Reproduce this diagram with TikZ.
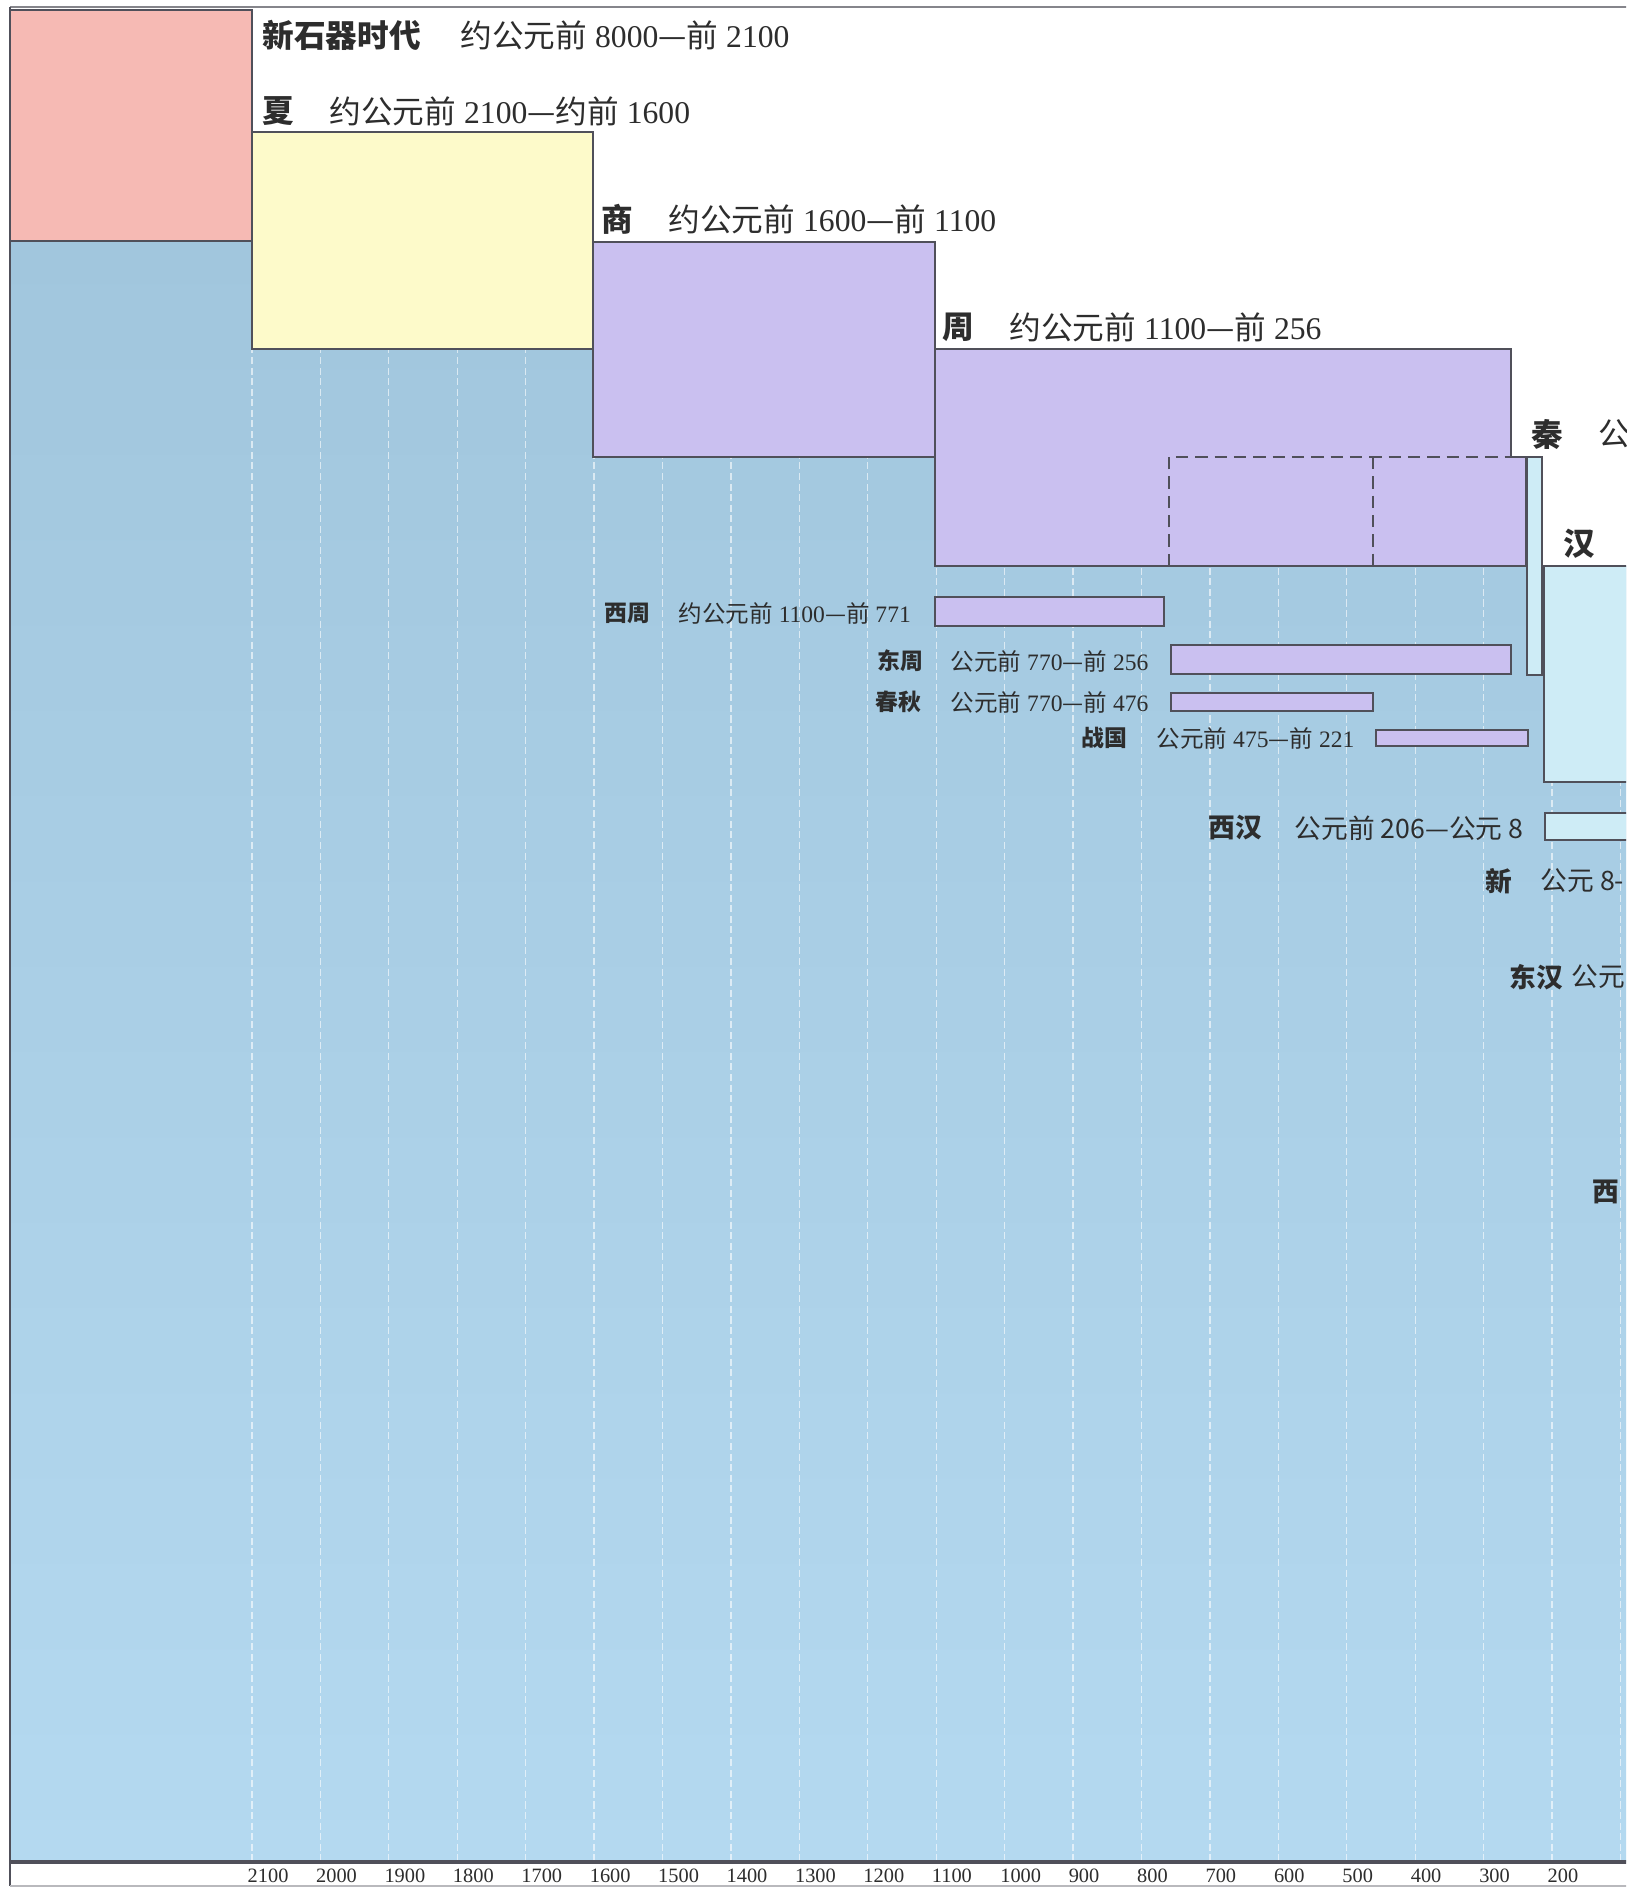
\documentclass[tikz,border=0pt]{standalone}
\usepackage{fontspec}
\setmainfont{Liberation Serif}
\newfontfamily\cjk{Noto Sans CJK SC}
\usepackage{tikz}
\usepackage{xcolor}

\definecolor{neopink}{RGB}{246,186,180}
\definecolor{xiayellow}{RGB}{253,250,202}
\definecolor{zhoupurple}{RGB}{202,192,240}
\definecolor{bgtop}{RGB}{161,198,221}
\definecolor{bgbot}{RGB}{180,217,240}
\definecolor{hancyan}{RGB}{206,236,246}
\definecolor{edge}{RGB}{80,80,90}
\definecolor{ink}{RGB}{45,45,45}

\newcommand{\cn}[1]{{\cjk #1}}

\begin{document}
\begin{tikzpicture}[x=0.1mm, y=-0.1mm,
    era/.style={draw=edge, line width=0.6pt},
    yearline/.style={white, opacity=0.6, line width=0.35pt, dash pattern=on 2pt off 1pt},
    bigname/.style={anchor=west, inner sep=0pt, text=ink, font=\cjk\bfseries\fontsize{9}{11}\selectfont},
    bigdate/.style={anchor=west, inner sep=0pt, text=ink, font=\fontsize{9}{11}\selectfont},
    subname/.style={anchor=west, inner sep=0pt, text=ink, font=\cjk\bfseries\fontsize{6.5}{8}\selectfont},
    subdate/.style={anchor=west, inner sep=0pt, text=ink, font=\fontsize{6.7}{8}\selectfont},
    hanname/.style={anchor=west, inner sep=0pt, text=ink, font=\cjk\bfseries\fontsize{7.6}{9}\selectfont},
    handate/.style={anchor=west, inner sep=0pt, text=ink, font=\cjk\fontsize{7.6}{9}\selectfont},
    yearlbl/.style={anchor=west, inner sep=0pt, text=ink, font=\fontsize{5.8}{7}\selectfont}]
    \useasboundingbox (0,0) rectangle (1631,1888);
    \fill[white] (0,0) rectangle (1631,1888);

    \begin{scope}
    \clip (0,0) rectangle (1626,1888);

    % Blue background below the staircase
    \shade[top color=bgtop, bottom color=bgbot] (10,241) -- (252,241) -- (252,349) -- (593,349)
        -- (593,457) -- (935,457) -- (935,566) -- (1640,566) -- (1640,1862) -- (10,1862) -- cycle;

    % Year lines
    \begin{scope}
    \clip (10,241) -- (252,241) -- (252,349) -- (593,349) -- (593,457) -- (935,457)
        -- (935,566) -- (1640,566) -- (1640,1862) -- (10,1862) -- cycle;
    \foreach \yr in {2100,2000,...,100}
        \draw[yearline] ({252+(2100-\yr)*0.6842},241) -- ({252+(2100-\yr)*0.6842},1862);
    \end{scope}

    % Frame
    \draw[edge!70, line width=0.8pt] (10,7) -- (1640,7);
    \draw[edge, line width=0.6pt] (10,7) -- (10,1886);
    \draw[edge, line width=1.2pt] (10,1862) -- (1640,1862);
    \draw[edge!40, line width=0.5pt] (10,1886) -- (1640,1886);

    % Dynasties
    \filldraw[era, fill=neopink] (10,10) rectangle (252,241);
    \filldraw[era, fill=xiayellow] (252,132) rectangle (593,349);
    \filldraw[era, fill=zhoupurple] (593,242) rectangle (935,457);
    \filldraw[era, fill=zhoupurple] (935,349) -- (1511,349) -- (1511,457) -- (1526,457)
        -- (1526,566) -- (935,566) -- cycle;
    \draw[edge, line width=0.7pt, dash pattern=on 3.5pt off 2pt] (1169,566) -- (1169,457) -- (1511,457);
    \draw[edge, line width=0.7pt, dash pattern=on 3.5pt off 2pt] (1373,457) -- (1373,566);
    \filldraw[era, fill=hancyan] (1527,457) rectangle (1542,675);
    \filldraw[era, fill=hancyan] (1544,566) rectangle (1660,782);

    % Zhou sub periods
    \filldraw[era, fill=zhoupurple] (935,597) rectangle (1164,626);
    \filldraw[era, fill=zhoupurple] (1171,645) rectangle (1511,674);
    \filldraw[era, fill=zhoupurple] (1171,693) rectangle (1373,711);
    \filldraw[era, fill=zhoupurple] (1376,730) rectangle (1528,746);
    \filldraw[era, fill=hancyan] (1545,813) rectangle (1660,840);

    % Labels
    \node[bigname] (neo) at (262,35) {新石器时代};
    \node[bigdate] (neo-d) at (460,35) {\cn{约公元前} 8000\cn{—前} 2100};
    \node[bigname] (xia) at (262,111) {夏};
    \node[bigdate] (xia-d) at (329,111) {\cn{约公元前} 2100\cn{—约前} 1600};
    \node[bigname] (shang) at (601,219) {商};
    \node[bigdate] (shang-d) at (668,219) {\cn{约公元前} 1600\cn{—前} 1100};
    \node[bigname] (zhou) at (942,327) {周};
    \node[bigdate] (zhou-d) at (1009,327) {\cn{约公元前} 1100\cn{—前} 256};
    \node[bigname] (qin) at (1531,434) {秦};
    \node[bigdate] (qin-d) at (1598,434) {\cn{公}};
    \node[bigname] (han) at (1563,544) {汉};

    \node[subname] (xizhou) at (604,613) {西周};
    \node[subdate] (xizhou-d) at (678,613) {\cn{约公元前} 1100\cn{—前} 771};
    \node[subname] (dongzhou) at (877,661) {东周};
    \node[subdate] (dongzhou-d) at (950,661) {\cn{公元前} 770\cn{—前} 256};
    \node[subname] (chunqiu) at (875,702) {春秋};
    \node[subdate] (chunqiu-d) at (950,702) {\cn{公元前} 770\cn{—前} 476};
    \node[subname] (zhanguo) at (1081,738) {战国};
    \node[subdate] (zhanguo-d) at (1156,738) {\cn{公元前} 475\cn{—前} 221};

    \node[hanname] (xihan) at (1208,828) {西汉};
    \node[handate] (xihan-d) at (1294,828) {公元前 206—公元 8};
    \node[hanname] (xin) at (1485,881) {新};
    \node[handate] (xin-d) at (1540,881) {公元 8-};
    \node[hanname] (donghan) at (1509,977) {东汉};
    \node[handate] (donghan-d) at (1571,977) {公元};
    \node[hanname] (xijin) at (1592,1192) {西};

    % Year axis
    \foreach \yr in {2100,2000,...,200}
        \node[yearlbl] (yr\yr) at ({247+(2100-\yr)*0.6842},1876) {\yr};
    \end{scope}
\end{tikzpicture}
\end{document}
